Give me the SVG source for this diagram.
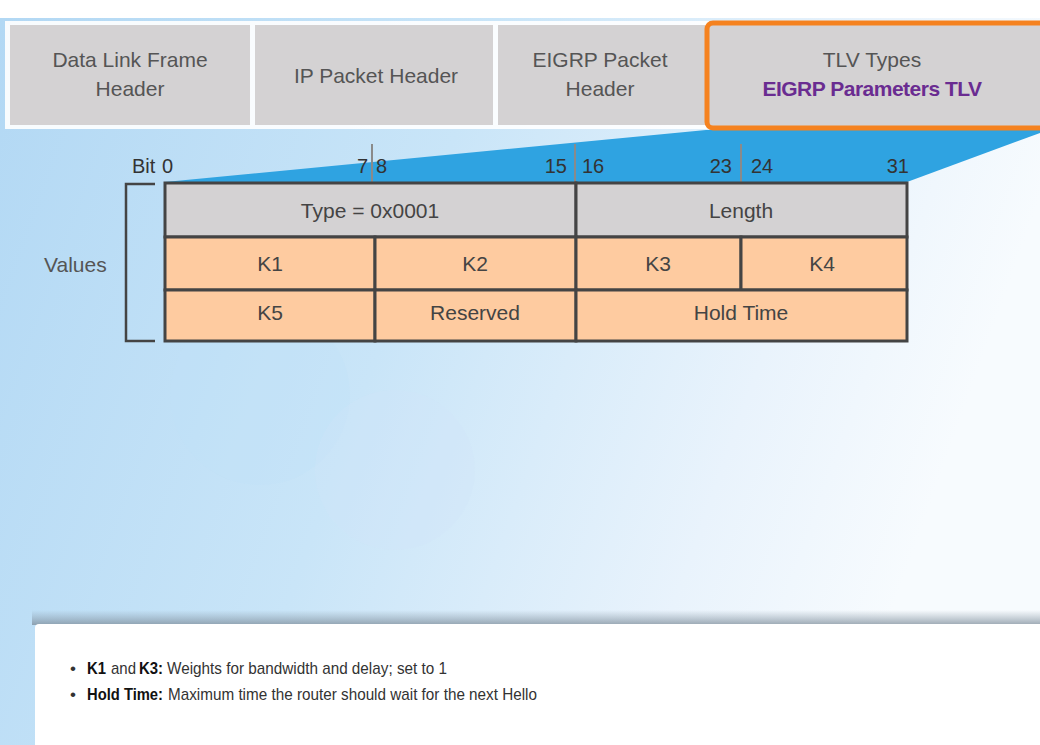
<svg xmlns="http://www.w3.org/2000/svg" width="1040" height="745" viewBox="0 0 1040 745">
<defs>
<linearGradient id="bg" x1="0" y1="0" x2="1" y2="0.25">
<stop offset="0" stop-color="#b2d8f4"/>
<stop offset="0.45" stop-color="#c9e5f8"/>
<stop offset="0.8" stop-color="#e9f3fc"/>
<stop offset="1" stop-color="#f7fbfe"/>
</linearGradient>
<linearGradient id="shadow" x1="0" y1="0" x2="0" y2="1">
<stop offset="0" stop-color="#8a9aa8" stop-opacity="0"/>
<stop offset="1" stop-color="#7d8c99" stop-opacity="0.75"/>
</linearGradient>
<style>
.hdr{fill:#d4d2d3}
.hl{font-family:"Liberation Sans",Arial,sans-serif;font-size:21px;fill:#555;text-anchor:middle}
.cell{stroke:#444;stroke-width:3}
.g{fill:#d4d2d3}
.o{fill:#fecba0}
.ct{font-family:"Liberation Sans",Arial,sans-serif;font-size:21px;fill:#444;text-anchor:middle}
.bit{font-family:"Liberation Sans",Arial,sans-serif;font-size:20px;fill:#333}
.tick{stroke:#8a8a8a;stroke-width:2}
.note{font-family:"Liberation Sans",Arial,sans-serif;font-size:17px;fill:#333}
.nb{font-family:"Liberation Sans",Arial,sans-serif;font-size:17px;fill:#111;font-weight:bold}
</style>
</defs>
<rect x="0" y="0" width="1040" height="745" fill="#ffffff"/>
<rect x="0" y="18" width="1040" height="727" fill="url(#bg)"/>
<circle cx="260" cy="395" r="90" fill="#bfe0f7" opacity="0.3"/>
<circle cx="395" cy="470" r="80" fill="#cfe6f7" opacity="0.3"/>

<g id="header-frame">
<rect x="5" y="21" width="1040" height="108" fill="#ffffff" opacity="0.9"/>
</g>
<g id="hdr-datalink">
<rect class="hdr" x="10" y="25" width="240" height="100"/>
<text class="hl" x="130" y="67">Data Link Frame</text>
<text class="hl" x="130" y="96">Header</text>
</g>
<g id="hdr-ip">
<rect class="hdr" x="255" y="25" width="238" height="100"/>
<text class="hl" x="376" y="83">IP Packet Header</text>
</g>
<g id="hdr-eigrp">
<rect class="hdr" x="498" y="25" width="207" height="100"/>
<text class="hl" x="600" y="67">EIGRP Packet</text>
<text class="hl" x="600" y="96">Header</text>
</g>

<g id="zoom-wedge">
<polygon points="165,182 706,130 1040,130 1040,133 907,182" fill="#2fa3e1"/>
</g>

<g id="hdr-tlv">
<rect x="707" y="23" width="345" height="105" rx="6" fill="#d4d2d3" stroke="#f5821f" stroke-width="5"/>
<text class="hl" x="872" y="67">TLV Types</text>
<text class="hl" x="872" y="96" font-weight="bold" style="fill:#6a2c91" letter-spacing="-0.5">EIGRP Parameters TLV</text>
</g>

<g id="bit-labels">
<text class="bit" x="132" y="173">Bit</text>
<text class="bit" x="162" y="173">0</text>
<text class="bit" x="368" y="173" text-anchor="end">7</text>
<line class="tick" x1="372" y1="144" x2="372" y2="182"/>
<text class="bit" x="376" y="173">8</text>
<text class="bit" x="567" y="173" text-anchor="end">15</text>
<line class="tick" x1="575" y1="144" x2="575" y2="182"/>
<text class="bit" x="582" y="173">16</text>
<text class="bit" x="732" y="173" text-anchor="end">23</text>
<line class="tick" x1="741" y1="144" x2="741" y2="182"/>
<text class="bit" x="751" y="173">24</text>
<text class="bit" x="909" y="173" text-anchor="end">31</text>
</g>

<g id="values-label">
<text x="44" y="272" font-family="Liberation Sans,Arial,sans-serif" font-size="21" fill="#555">Values</text>
<polyline points="155,184 126,184 126,341 155,341" fill="none" stroke="#444" stroke-width="2.5"/>
</g>

<g id="row-type">
<rect class="cell g" x="165" y="183" width="411" height="54"/>
<text class="ct" x="370" y="218">Type = 0x0001</text>
</g>
<g id="row-length">
<rect class="cell g" x="576" y="183" width="331" height="54"/>
<text class="ct" x="741" y="218">Length</text>
</g>
<g id="cell-k1">
<rect class="cell o" x="165" y="237" width="210" height="53"/>
<text class="ct" x="270" y="271">K1</text>
</g>
<g id="cell-k2">
<rect class="cell o" x="375" y="237" width="201" height="53"/>
<text class="ct" x="475" y="271">K2</text>
</g>
<g id="cell-k3">
<rect class="cell o" x="576" y="237" width="165" height="53"/>
<text class="ct" x="658" y="271">K3</text>
</g>
<g id="cell-k4">
<rect class="cell o" x="741" y="237" width="166" height="53"/>
<text class="ct" x="822" y="271">K4</text>
</g>
<g id="cell-k5">
<rect class="cell o" x="165" y="290" width="210" height="51"/>
<text class="ct" x="270" y="320">K5</text>
</g>
<g id="cell-reserved">
<rect class="cell o" x="375" y="290" width="201" height="51"/>
<text class="ct" x="475" y="320">Reserved</text>
</g>
<g id="cell-holdtime">
<rect class="cell o" x="576" y="290" width="331" height="51"/>
<text class="ct" x="741" y="320">Hold Time</text>
</g>

<g id="notes">
<rect x="32" y="610" width="1010" height="15" fill="url(#shadow)"/>
<rect x="35" y="624" width="1010" height="125" rx="4" fill="#ffffff"/>
<text class="note" x="70" y="674">•</text>
<text class="nb" x="87" y="674" textLength="19" lengthAdjust="spacingAndGlyphs">K1</text>
<text class="note" x="111" y="674" textLength="25" lengthAdjust="spacingAndGlyphs">and</text>
<text class="nb" x="139" y="674" textLength="24" lengthAdjust="spacingAndGlyphs">K3:</text>
<text class="note" x="167" y="674" textLength="280" lengthAdjust="spacingAndGlyphs">Weights for bandwidth and delay; set to 1</text>
<text class="note" x="70" y="700">•</text>
<text class="nb" x="87" y="700" textLength="76" lengthAdjust="spacingAndGlyphs">Hold Time:</text>
<text class="note" x="168" y="700" textLength="369" lengthAdjust="spacingAndGlyphs">Maximum time the router should wait for the next Hello</text>
</g>
</svg>
